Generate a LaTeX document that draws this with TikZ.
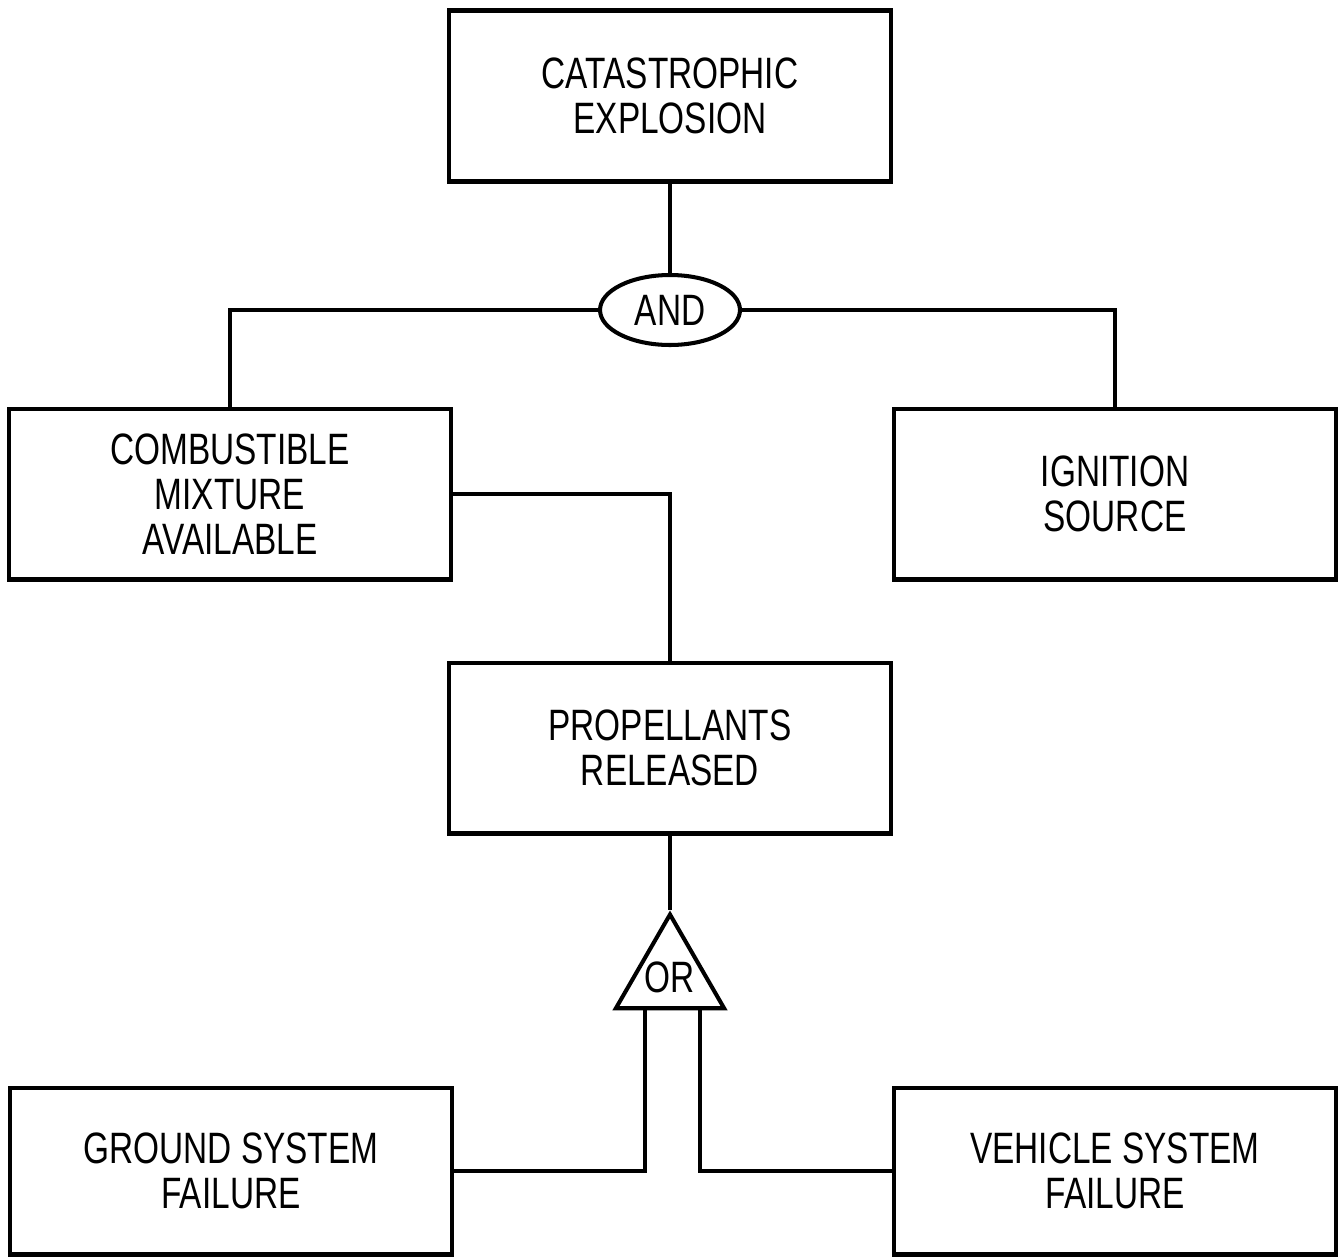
\documentclass[tikz,border=0pt]{standalone}
\usepackage{fontspec}
\setmainfont{Liberation Sans}[FakeStretch=0.76]
\usetikzlibrary{shapes.geometric}

\begin{document}
\begin{tikzpicture}[
    x=0.02cm, y=-0.02cm,
    event/.style={draw, line width=2.3pt, minimum width=8.86cm, minimum height=3.42cm, align=center, inner sep=0pt, font=\fontsize{25}{25.6}\selectfont},
    andbox/.style={draw, ellipse, line width=2.3pt, minimum width=2.8cm, minimum height=1.4cm, inner sep=0pt, font=\fontsize{25}{25.6}\selectfont},
    orbox/.style={draw, regular polygon, regular polygon sides=3, line width=2.3pt, minimum size=2.5cm, inner sep=0pt},
    wire/.style={line width=2.6pt}
]
    \useasboundingbox (0,0) rectangle (1341,1257);

    \node[event] (explosion) at (670,96) {CATASTROPHIC\\EXPLOSION};
    \node[andbox] (andgate) at (670,310) {AND};
    \node[event] (combust) at (230,494) {COMBUSTIBLE\\MIXTURE\\AVAILABLE};
    \node[event] (ignition) at (1115,494) {IGNITION\\SOURCE};
    \node[event] (propel) at (670,748) {PROPELLANTS\\RELEASED};
    \node[orbox, label={[font=\fontsize{25}{25.6}\selectfont]center:OR}] (orgate) at (670,977) {};
    \node[event, minimum height=3.34cm] (ground) at (231,1171) {GROUND SYSTEM\\FAILURE};
    \node[event, minimum height=3.34cm] (vehicle) at (1115,1171) {VEHICLE SYSTEM\\FAILURE};

    \draw[wire] (explosion.south) -- (andgate.north);
    \draw[wire] (andgate.west) -| (combust.north);
    \draw[wire] (andgate.east) -| (ignition.north);
    \draw[wire] (combust.east) -| (propel.north);
    \draw[wire] (propel.south) -- (orgate.corner 1);
    \draw[wire] (ground.east) -| ([xshift=-0.5cm]orgate.side 2);
    \draw[wire] (vehicle.west) -| ([xshift=0.6cm]orgate.side 2);
\end{tikzpicture}
\end{document}
